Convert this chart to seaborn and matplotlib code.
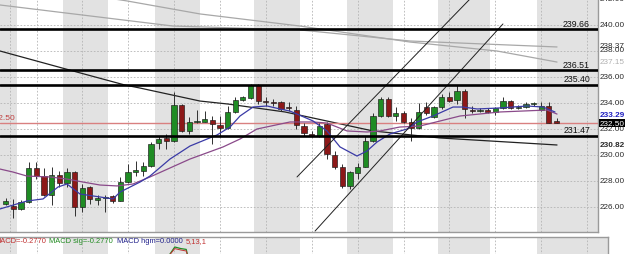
import matplotlib
matplotlib.use("Agg")
import matplotlib.pyplot as plt
import matplotlib.transforms as mtransforms
import numpy as np
import pandas as pd
import seaborn as sns

# ------------------------------------------------------------------ data
opens = [226.23, 226.08, 225.85, 226.38, 229.00, 228.38, 226.92, 228.46, 227.85, 228.69,
         226.00, 227.54, 226.54, 226.69, 226.85, 226.46, 227.92, 228.69, 228.77, 229.15,
         230.92, 231.31, 231.08, 233.85, 231.85, 232.54, 232.54, 232.69, 232.31, 232.08,
         233.31, 234.23, 234.38, 235.38, 234.15, 234.08, 234.08, 233.69, 233.46, 232.23,
         231.62, 231.46, 232.38, 230.00, 229.08, 227.62, 228.62, 229.08, 231.08, 233.00,
         234.31, 233.00, 233.23, 232.54, 232.08, 233.69, 232.92, 233.69, 234.46, 234.23,
         234.92, 233.46, 233.38, 233.46, 233.31, 233.62, 234.15, 233.62, 233.69, 233.92,
         233.46, 233.77, 232.54]
highs = [226.69, 226.62, 226.54, 229.46, 229.46, 229.00, 229.08, 228.77, 229.00, 228.77,
         227.77, 227.62, 226.92, 226.92, 226.92, 228.31, 229.31, 229.54, 229.46, 231.00,
         231.46, 231.62, 234.85, 233.92, 232.92, 233.46, 233.38, 233.00, 233.00, 233.77,
         234.46, 234.54, 235.46, 235.46, 234.46, 234.31, 234.15, 234.08, 233.77, 232.46,
         231.85, 232.46, 232.54, 230.31, 229.31, 228.77, 229.38, 231.46, 233.23, 234.46,
         234.46, 233.69, 233.38, 232.85, 234.00, 234.08, 233.77, 234.69, 234.85, 235.38,
         235.08, 233.77, 233.62, 233.62, 233.69, 234.46, 234.23, 233.85, 234.08, 234.08,
         234.08, 234.08, 232.85]
lows = [226.15, 225.15, 225.77, 226.31, 228.15, 226.85, 226.15, 227.54, 227.54, 225.31,
        225.62, 226.23, 226.15, 225.62, 226.31, 226.46, 227.85, 228.38, 228.38, 229.08,
        230.46, 230.46, 231.00, 231.77, 231.62, 232.46, 232.54, 230.85, 231.38, 232.00,
        233.23, 234.15, 234.31, 233.92, 233.77, 233.77, 233.38, 233.38, 232.00, 231.46,
        231.38, 231.38, 229.69, 228.92, 227.46, 227.38, 228.15, 229.08, 231.00, 232.92,
        232.92, 232.62, 232.46, 231.08, 232.00, 233.08, 232.85, 233.54, 234.08, 233.92,
        232.85, 233.23, 233.31, 233.23, 233.08, 233.54, 233.54, 233.54, 233.62, 233.77,
        233.38, 232.46, 232.46]
closes = [226.46, 225.85, 226.38, 229.00, 228.38, 226.92, 228.46, 227.85, 228.69, 226.00,
          227.46, 226.62, 226.69, 226.77, 226.46, 227.92, 228.69, 228.85, 229.15, 230.85,
          231.23, 231.08, 233.85, 231.85, 232.54, 232.62, 232.77, 232.38, 232.08, 233.31,
          234.23, 234.46, 235.38, 234.15, 234.08, 234.00, 233.54, 233.62, 232.31, 231.69,
          231.46, 232.23, 230.08, 229.08, 227.62, 228.69, 229.08, 231.08, 233.00, 234.31,
          233.00, 233.23, 232.54, 232.08, 233.31, 233.23, 233.69, 234.46, 234.15, 234.92,
          233.54, 233.38, 233.46, 233.31, 233.62, 234.15, 233.62, 233.69, 233.92, 234.00,
          233.77, 232.46, 232.50]

levels = [239.66, 236.51, 235.40, 231.47]
level_labels = ["239.66", "236.51", "235.40", "231.47"]
last_price = 232.50

fast_ma_x = [-0.75, 2.78, 4.88, 6.84, 8.01, 9.71, 12.33, 14.03, 14.95, 17.56, 18.86, 21.48,
             24.09, 27.62, 29.32, 30.63, 32.33, 34.16, 35.86, 37.16, 40.17, 42.0, 43.7,
             45.92, 47.23, 48.54, 50.24, 52.46, 53.77, 55.86, 58.47, 59.78, 61.61, 64.61,
             68.15, 70.24, 71.8]
fast_ma_y = [225.85, 226.46, 226.62, 227.54, 227.77, 227.0, 226.77, 226.62, 227.15, 227.92,
             228.38, 229.69, 230.69, 231.54, 232.15, 233.0, 233.69, 233.77, 233.54, 233.38,
             232.62, 231.85, 230.62, 229.92, 230.31, 231.0, 231.62, 232.0, 232.54, 233.0,
             233.69, 233.69, 233.54, 233.62, 233.77, 233.69, 233.31]

slow_ma_x = [-0.75, 0.95, 2.78, 5.79, 8.01, 10.1, 12.33, 14.55, 16.64, 18.86, 24.09, 28.41,
             30.63, 32.85, 37.16, 40.17, 42.0, 44.61, 47.23, 48.93, 51.5, 54.16, 59.39,
             64.61, 70.76, 72.07]
slow_ma_y = [228.92, 228.69, 228.38, 228.31, 228.15, 227.92, 227.69, 227.62, 227.77, 228.31,
             229.69, 230.62, 231.23, 232.0, 232.54, 232.54, 232.46, 231.85, 231.77, 231.85,
             232.15, 232.23, 233.0, 233.31, 233.46, 233.15]

long_ma_x = [-0.75, 9.32, 15.6, 17.56, 25.4, 29.06, 36.51, 48.01, 56.77, 72.07]
long_ma_y = [238.0, 236.38, 235.38, 235.15, 234.15, 233.92, 233.31, 231.85, 231.31, 230.77]

gray_ma1_x = [12.0, 15.86, 25.4, 38.47, 52.85, 64.22, 72.07]
gray_ma1_y = [242.2, 241.85, 240.85, 239.92, 238.69, 238.0, 237.15]
gray_ma2_x = [-0.75, 21.87, 38.47, 52.85, 72.07]
gray_ma2_y = [241.54, 239.92, 239.62, 238.77, 238.31]

channel_upper_x = [38.08, 60.69]
channel_upper_y = [228.31, 242.0]
channel_lower_x = [40.44, 65.0]
channel_lower_y = [224.15, 240.08]

session_bands = [(-2.0, 1.48), (7.49, 13.37), (19.52, 25.4), (32.46, 38.47),
                 (44.61, 50.63), (56.51, 63.31), (69.45, 80.0)]
time_grid = [0.56, 4.09, 10, 16, 22, 28, 34, 40, 46, 52, 58, 64, 70, 76]
price_grid = [226, 228, 230, 232, 234, 236, 238, 240]

axis_label_prices = [242.0, 240.0, 238.42, 238.08, 237.19, 236.0, 234.0, 232.0, 230.77, 230.0, 228.0, 226.0]
axis_label_texts = ["242.00", "240.00", "238.37", "238.00", "237.15", "236.00", "234.00",
                    "232.00", "230.82", "230.00", "228.00", "226.00"]

macd_x = [21.3, 22.1, 22.9, 23.6, 23.8]
macd_line = [0.05, 0.5, 0.42, 0.38, 0.05]
macd_sig = [0.05, 0.42, 0.35, 0.3, 0.05]

macd_texts = ["MACD=-0.2770", "MACD sig=-0.2770", "MACD hgm=0.0000", "5,13,1"]
macd_colors = ["#c03030", "#208a20", "#20208a", "#c03030"]

# ------------------------------------------------------------------ style
sns.set_style("white")
plt.rcParams["font.family"] = ["Liberation Sans", "DejaVu Sans"]

W, H = 625, 255
fig = plt.figure(figsize=(W / 100, H / 100), dpi=100)

STEP, X0 = 7.65, 5.7
def px2idx(px):
    return (px - X0) / STEP

ax = fig.add_axes([0, 22 / H, 598 / W, 233 / H])
ax.set_xlim(px2idx(0), px2idx(598))
ax.set_ylim(242 - 233 / 13, 242)
axm = fig.add_axes([-5 / W, -23 / H, 613 / W, 40 / H])
axm.set_xlim(px2idx(-5), px2idx(608))
axm.set_ylim(-1, 1)

band_col = "#e2e2e2"
grid_col = "#b4b4b4"
for a in (ax, axm):
    a.set_facecolor("white")
    for lo, hi in session_bands:
        a.axvspan(lo, hi, color=band_col, lw=0, zorder=0)
    for g in time_grid:
        a.axvline(g, color=grid_col, lw=0.6, ls=(0, (2, 2)), zorder=1)
    a.set_xticks([])
    a.set_yticks([])
    for s in a.spines.values():
        s.set_color("#9a9a9a")
        s.set_linewidth(1.0)
    a.spines["left"].set_visible(False)

ax.spines["top"].set_visible(False)
axm.spines["bottom"].set_visible(False)

for p in price_grid:
    ax.axhline(p, color=grid_col, lw=0.6, ls=(0, (2, 2)), zorder=1)

# long MAs
sns.lineplot(x=gray_ma1_x, y=gray_ma1_y, ax=ax, color="#a8a8a8", lw=0.9, sort=False, zorder=2)
sns.lineplot(x=gray_ma2_x, y=gray_ma2_y, ax=ax, color="#a8a8a8", lw=0.9, sort=False, zorder=2)
sns.lineplot(x=long_ma_x, y=long_ma_y, ax=ax, color="#222222", lw=0.9, sort=False, zorder=2)

# last price line
ax.axhline(last_price, color="#d98080", lw=1.0, zorder=2)

# candles
idx = np.arange(len(opens))
o = np.array(opens); c = np.array(closes)
up = c >= o
body_lo = np.minimum(o, c)
body_h = np.maximum(np.abs(c - o), 0.08)
ax.vlines(idx, lows, highs, color="#303030", lw=0.7, zorder=3)
ax.bar(idx, body_h, bottom=body_lo, width=0.68,
       color=np.where(up, "#1f8c24", "#8c1818"), edgecolor="#1a1a1a", linewidth=0.45, zorder=4)

# short MAs on top
sns.lineplot(x=slow_ma_x, y=slow_ma_y, ax=ax, color="#8a4a8a", lw=0.9, sort=False, zorder=5)
sns.lineplot(x=fast_ma_x, y=fast_ma_y, ax=ax, color="#3a3aa6", lw=0.9, sort=False, zorder=5)

# channel lines
sns.lineplot(x=channel_upper_x, y=channel_upper_y, ax=ax, color="#202020", lw=0.7, sort=False, zorder=5)
sns.lineplot(x=channel_lower_x, y=channel_lower_y, ax=ax, color="#202020", lw=0.7, sort=False, zorder=5)

tr = mtransforms.blended_transform_factory(ax.transAxes, ax.transData)

# support / resistance levels
for lv, lab in zip(levels, level_labels):
    ax.axhline(lv, color="black", lw=1.9, zorder=6)
    ax.text(590 / 598, lv + 0.14, lab, transform=tr,
            ha="right", va="bottom", fontsize=6.3, color="#111111", zorder=7)

# left-side last price label
ax.text(15 / 598, 232.9, "232.50", transform=tr,
        ha="right", va="center", fontsize=6, color="#c04040", zorder=7, clip_on=False)

# right axis labels
xr = 599.5 / 598
for p, t in zip(axis_label_prices, axis_label_texts):
    col = "#b0b0b0" if t == "237.15" else "#2a2a2a"
    weight = "bold" if t == "230.82" else "normal"
    ax.text(xr, p, t, transform=tr, ha="left", va="center", fontsize=5.9, color=col,
            fontweight=weight, clip_on=False, zorder=8)
ax.text(xr, 233.15, "233.29", transform=tr, ha="left", va="center", fontsize=5.9, color="#2020c0",
        fontweight="bold", clip_on=False, zorder=9)
ax.text(xr, 232.46, "232.50", transform=tr, ha="left", va="center", fontsize=5.9, color="white",
        clip_on=False, zorder=10, bbox=dict(facecolor="black", edgecolor="none", pad=0.6))

# MACD panel
sns.lineplot(x=macd_x, y=macd_line, ax=axm, color="#1f8c24", lw=0.9, sort=False)
sns.lineplot(x=macd_x, y=macd_sig, ax=axm, color="#c03030", lw=0.7, sort=False)
axm.set_ylim(-1, 1)

ty = (H - 242) / H
fig.canvas.draw()
renderer = fig.canvas.get_renderer()
xpos = -6.0
for txt, col in zip(macd_texts, macd_colors):
    t = fig.text(xpos / W, ty, txt, color=col, fontsize=5.4, va="center", ha="left")
    bb = t.get_window_extent(renderer=renderer)
    xpos = bb.x1 + 3.5

fig.savefig("out.png", dpi=100)
